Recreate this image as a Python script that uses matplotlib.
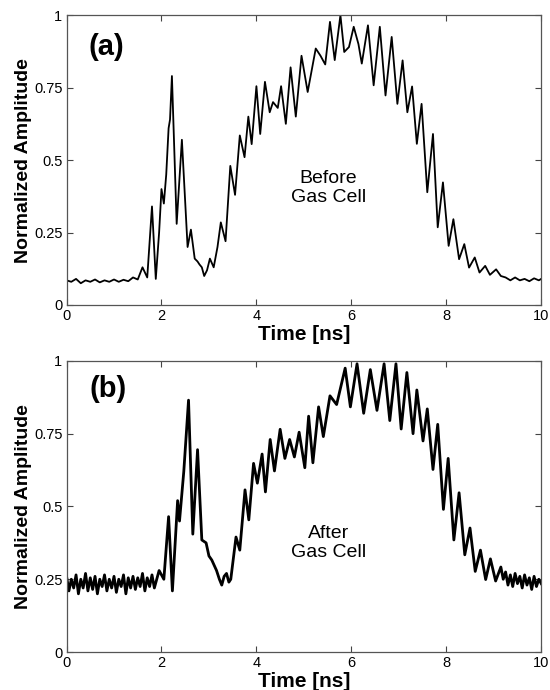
import numpy as np
import matplotlib
matplotlib.use('Agg')
import matplotlib.pyplot as plt

plt.rcParams['font.family'] = ['Liberation Sans', 'DejaVu Sans']

# ==========================================
# DATA
# ==========================================
# (a) before gas cell
time_a = [0.0, 0.1, 0.2, 0.3, 0.4, 0.5, 0.6, 0.7, 0.8, 0.9, 1.0, 1.1, 1.2, 1.3, 1.4, 1.5,
          1.6, 1.7, 1.8, 1.88, 1.95, 2.0, 2.05, 2.1, 2.15, 2.18, 2.22, 2.32, 2.43, 2.55,
          2.62, 2.7, 2.76, 2.8, 2.85, 2.9, 2.96, 3.02, 3.1, 3.18, 3.25, 3.35, 3.45, 3.55,
          3.65, 3.75, 3.83, 3.9, 4.0, 4.08, 4.18, 4.28, 4.35, 4.45, 4.52, 4.62, 4.72, 4.83,
          4.95, 5.08, 5.25, 5.35, 5.45, 5.55, 5.65, 5.77, 5.85, 5.95, 6.05, 6.15, 6.22,
          6.35, 6.47, 6.6, 6.72, 6.85, 6.97, 7.08, 7.18, 7.28, 7.38, 7.48, 7.6, 7.72, 7.82,
          7.93, 8.05, 8.15, 8.27, 8.38, 8.48, 8.6, 8.7, 8.82, 8.92, 9.05, 9.15, 9.25, 9.35,
          9.45, 9.55, 9.65, 9.75, 9.85, 9.95, 10.0]
amp_a = [0.085, 0.08, 0.09, 0.075, 0.085, 0.08, 0.088, 0.078, 0.085, 0.08, 0.088, 0.08, 0.087,
         0.082, 0.095, 0.088,
         0.13, 0.095, 0.34, 0.09, 0.25, 0.40, 0.35, 0.45, 0.61, 0.64, 0.79, 0.28, 0.57, 0.20,
         0.26, 0.16, 0.15, 0.14, 0.13, 0.10, 0.12, 0.16, 0.13, 0.20, 0.285, 0.22, 0.48, 0.38,
         0.585, 0.51, 0.65, 0.555, 0.755, 0.59, 0.77, 0.665, 0.70, 0.68, 0.755, 0.625, 0.82, 0.65,
         0.86, 0.735, 0.885, 0.86, 0.83, 0.977, 0.845, 1.0, 0.873, 0.89, 0.96, 0.90, 0.833,
         0.965, 0.758, 0.96, 0.723, 0.925, 0.694, 0.844, 0.665, 0.754, 0.556, 0.694, 0.389, 0.59, 0.268,
         0.423, 0.204, 0.296, 0.158, 0.21, 0.129, 0.164, 0.112, 0.135, 0.104, 0.123, 0.10, 0.095, 0.085,
         0.095, 0.085, 0.09, 0.082, 0.092, 0.085, 0.09]

# (b) after gas cell
time_b = [0.0, 0.05, 0.1, 0.15, 0.2, 0.25, 0.3, 0.35, 0.4, 0.45, 0.5, 0.55, 0.6, 0.65, 0.7,
          0.75, 0.8, 0.85, 0.9, 0.95, 1.0, 1.05, 1.1, 1.15, 1.2, 1.25, 1.3, 1.35, 1.4, 1.45,
          1.5, 1.55, 1.6, 1.65, 1.7, 1.75, 1.8, 1.85, 1.9,
          1.95, 2.05, 2.15, 2.23, 2.34, 2.38, 2.47, 2.57, 2.66, 2.76, 2.85, 2.94, 3.0, 3.06,
          3.16, 3.22, 3.27, 3.32, 3.37, 3.42, 3.46, 3.57, 3.65, 3.76, 3.84, 3.94, 4.02, 4.12,
          4.19, 4.29, 4.38, 4.5, 4.6, 4.7, 4.8, 4.9, 5.02, 5.1, 5.19, 5.31, 5.41, 5.55, 5.69,
          5.87, 5.98, 6.12, 6.26, 6.4, 6.54, 6.69, 6.81, 6.94, 7.05, 7.17, 7.3, 7.38, 7.51,
          7.6, 7.72, 7.82, 7.94, 8.04, 8.16, 8.27, 8.39, 8.5, 8.61, 8.72, 8.83, 8.93, 9.04,
          9.15, 9.2, 9.25, 9.3, 9.35, 9.4, 9.45, 9.5, 9.55, 9.6, 9.65, 9.7, 9.75, 9.8, 9.85,
          9.9, 9.95, 10.0]
amp_b = [0.26, 0.21, 0.25, 0.22, 0.265, 0.2, 0.25, 0.22, 0.27, 0.21, 0.255, 0.215, 0.26,
         0.2, 0.25, 0.225, 0.265, 0.21, 0.25, 0.22, 0.26, 0.205, 0.25, 0.225, 0.265, 0.2,
         0.255, 0.22, 0.26, 0.215, 0.255, 0.225, 0.27, 0.21, 0.255, 0.225, 0.265, 0.22, 0.25,
         0.28, 0.25, 0.465, 0.21, 0.52, 0.45, 0.62, 0.865, 0.405, 0.695, 0.385, 0.375, 0.33, 0.316,
         0.28, 0.25, 0.23, 0.26, 0.27, 0.24, 0.25, 0.395, 0.35, 0.557, 0.454, 0.648, 0.58, 0.68,
         0.55, 0.73, 0.622, 0.765, 0.665, 0.73, 0.67, 0.755, 0.633, 0.81, 0.65, 0.842, 0.74, 0.88, 0.85,
         0.975, 0.842, 0.99, 0.82, 0.97, 0.83, 0.99, 0.795, 0.99, 0.766, 0.96, 0.75, 0.90, 0.725,
         0.835, 0.627, 0.782, 0.49, 0.665, 0.385, 0.547, 0.334, 0.426, 0.277, 0.35, 0.249, 0.32, 0.244,
         0.292, 0.25, 0.275, 0.23, 0.265, 0.225, 0.27, 0.235, 0.26, 0.22, 0.265, 0.23, 0.255, 0.215,
         0.26, 0.225, 0.25, 0.235]

x_ticks = [0, 2, 4, 6, 8, 10]
y_ticks = [0, 0.25, 0.5, 0.75, 1]
y_tick_labels = ['0', '0.25', '0.5', '0.75', '1']

# tag, note, x, y, line width, tag position, note position
panels = [
    ('(a)', 'Before\nGas Cell', time_a, amp_a, 1.3, (0.83, 0.89), (5.52, 0.403)),
    ('(b)', 'After\nGas Cell', time_b, amp_b, 2.0, (0.88, 0.905), (5.53, 0.375)),
]

# ==========================================
# PLOT
# ==========================================
fig = plt.figure(figsize=(5.5, 6.9), dpi=100)
axes_boxes = [[0.121, 0.558, 0.863, 0.420],
              [0.121, 0.055, 0.863, 0.422]]

for box, (tag, note, t, a, lw, tag_xy, note_xy) in zip(axes_boxes, panels):
    ax = fig.add_axes(box)
    ax.plot(t, a, color='black', linewidth=lw)
    ax.set_xlim(0, 10)
    ax.set_ylim(0, 1)
    ax.set_xticks(x_ticks)
    ax.set_yticks(y_ticks)
    ax.set_yticklabels(y_tick_labels)
    ax.tick_params(direction='in', length=4, width=0.8, top=True, right=True,
                   labelsize=10.5, pad=3, color='#444444')
    for s in ax.spines.values():
        s.set_color('#555555')
        s.set_linewidth(0.9)
    ax.set_xlabel('Time [ns]', fontsize=15, fontweight='bold', labelpad=1.5)
    ax.set_ylabel('Normalized Amplitude', fontsize=14, fontweight='bold', labelpad=1.5)
    ax.text(tag_xy[0], tag_xy[1], tag, fontsize=21, fontweight='bold', ha='center', va='center')
    ax.text(note_xy[0], note_xy[1], note, fontsize=14, ha='center', va='center',
            linespacing=1.2)

plt.savefig('out.png', dpi=100)
